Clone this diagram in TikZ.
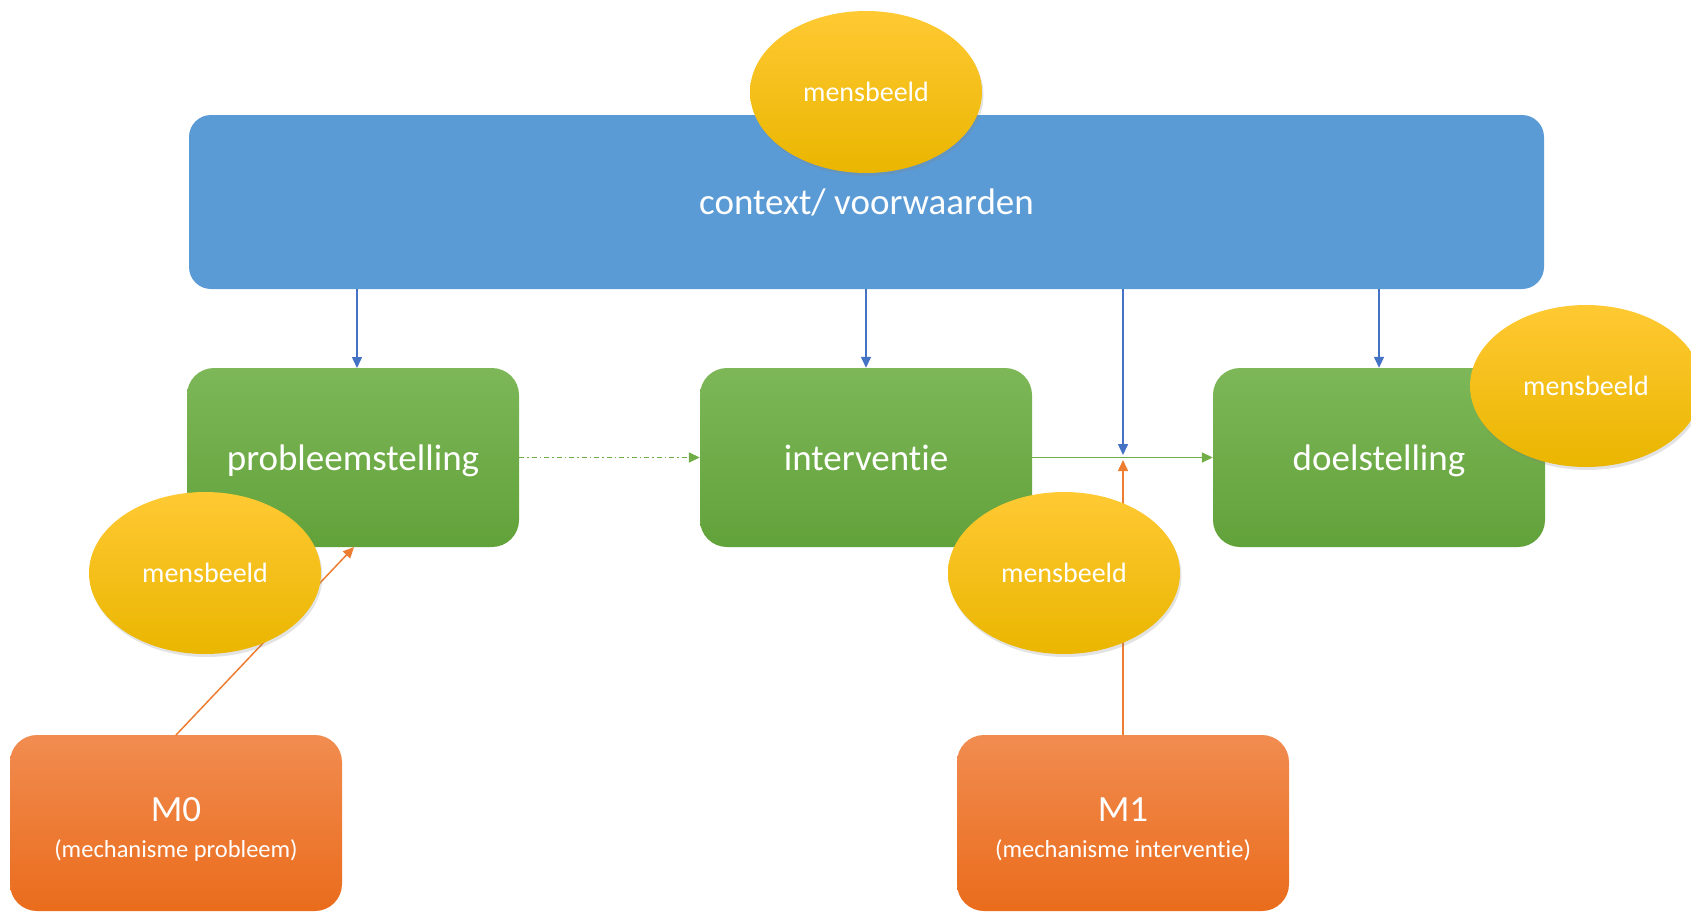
\documentclass[tikz,border=0pt]{standalone}
\usepackage{fontspec}
\setmainfont{Carlito}[Ligatures=NoCommon]
\usetikzlibrary{arrows.meta,shadows,shapes.geometric}
\definecolor{boxblue}{HTML}{5B9BD5}
\definecolor{grtop}{HTML}{7DB758}
\definecolor{grbot}{HTML}{62A23A}
\definecolor{ortop}{HTML}{F18C50}
\definecolor{orbot}{HTML}{EA6C1C}
\definecolor{yetop}{HTML}{FFC933}
\definecolor{yebot}{HTML}{EAB600}
\definecolor{lnblue}{HTML}{4472C4}
\definecolor{lnorange}{HTML}{ED7D31}
\definecolor{lngreen}{HTML}{70AD47}
\tikzset{
  ctxbox/.style={rectangle, rounded corners=22pt, fill=boxblue, minimum width=1355pt, minimum height=174pt, inner sep=0pt, text=white, font=\fontsize{37}{44}\selectfont},
  greenbox/.style={rectangle, rounded corners=27pt, top color=grtop, bottom color=grbot, minimum width=332pt, minimum height=179pt, inner sep=0pt, text=white, text depth=0pt, text height=26pt, font=\fontsize{37}{44}\selectfont},
  orangebox/.style={rectangle, rounded corners=27pt, top color=ortop, bottom color=orbot, minimum width=332pt, minimum height=176pt, inner sep=0pt},
  otext/.style={inner sep=0pt, text=white, align=center, font=\fontsize{24.5}{36}\selectfont},
  mens/.style={ellipse, top color=yetop, bottom color=yebot, minimum width=232pt, minimum height=162pt, inner sep=0pt, text=white, font=\fontsize{28}{34}\selectfont, drop shadow={opacity=0.22, shadow xshift=1.5pt, shadow yshift=-3pt}},
  conn/.style={line width=1.5pt, -{Triangle[length=11pt,width=10pt]}},
  bl/.style={conn, lnblue},
  orl/.style={conn, lnorange},
  grl/.style={conn, lngreen},
}
\begin{document}
\begin{tikzpicture}[x=1pt,y=-1pt]
\useasboundingbox (0,0) rectangle (1691,913);
\clip (0,0) rectangle (1691,913);
% main boxes
\node[ctxbox] (ctx) at (866.5,202) {context/ voorwaarden};
\node[greenbox] (prob) at (353,457.5) {probleemstelling};
\node[greenbox] (int) at (866,457.5) {interventie};
\node[greenbox] (doel) at (1379,457.5) {doelstelling};
\node[orangebox] (m0) at (176,823) {};
\node[orangebox] (m1) at (1123,823) {};
\node[otext] (m0t) at ([yshift=-6pt]m0.center) {{\fontsize{37}{36}\selectfont M0}\\(mechanisme probleem)};
\node[otext] (m1t) at ([yshift=-6pt]m1.center) {{\fontsize{37}{36}\selectfont M1}\\(mechanisme interventie)};
% junction coordinates
\coordinate (ptop) at (357,368);
\coordinate (jtop) at (1123,289);
\coordinate (jb) at (1123,455);
\coordinate (jo) at (1123,460);
\coordinate (m0top) at (176,735);
\coordinate (probbot) at (354,547);
% connectors
\draw[bl] (ctx.south -| ptop) -- (ptop);
\draw[bl] (ctx.south -| int) -- (int.north);
\draw[bl] (ctx.south -| doel) -- (doel.north);
\draw[bl] (jtop) -- (jb);
\draw[orl] (m1.north) -- (jo);
\draw[grl] (int.east) -- (doel.west);
\draw[conn, lngreen, dash pattern=on 5pt off 3pt on 1.5pt off 3pt] (prob.east) -- (int.west);
\draw[orl] (m0top) -- (probbot);
% ellipses on top
\node[mens] (e1) at (866,92) {mensbeeld};
\node[mens] (e2) at (1586,386) {mensbeeld};
\node[mens] (e3) at (205,573) {mensbeeld};
\node[mens] (e4) at (1064,573) {mensbeeld};
\end{tikzpicture}
\end{document}
